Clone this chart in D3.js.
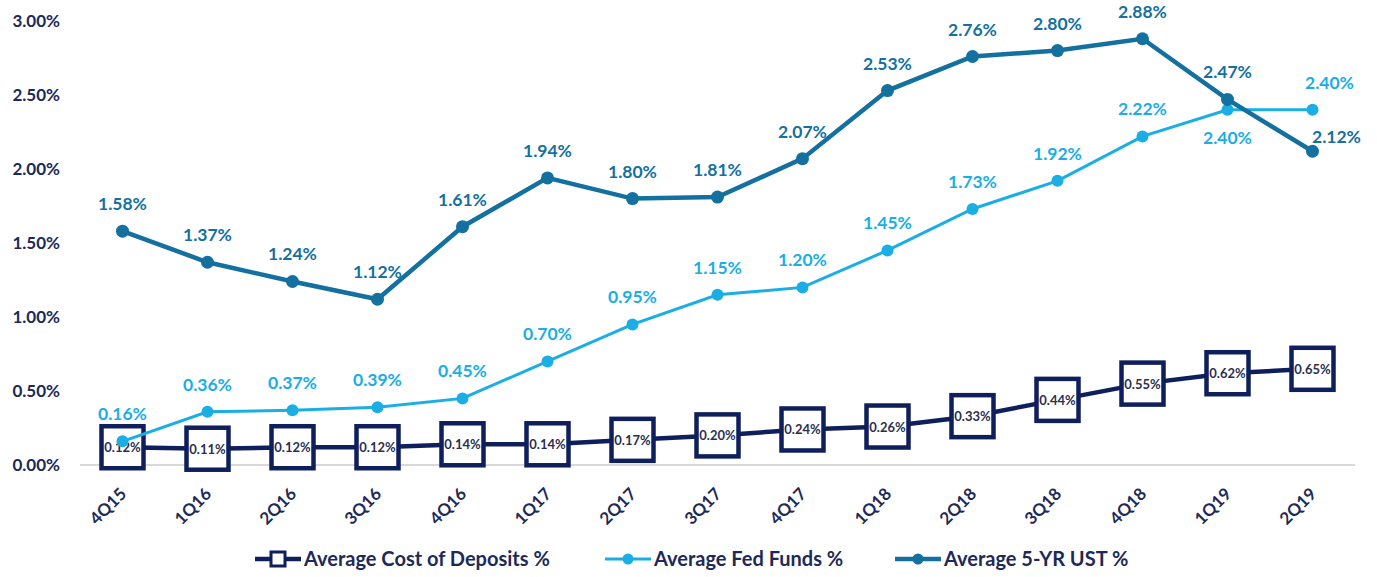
<!DOCTYPE html>
<html><head><meta charset="utf-8">
<script src="https://cdn.jsdelivr.net/npm/d3@7"></script>
<style>
body{margin:0;background:#fff;}
svg text{font-family:Lato, "Open Sans", sans-serif;font-weight:700;}
</style></head>
<body><svg id="c" width="1377" height="577"></svg>
<script>
const categories = ["4Q15","1Q16","2Q16","3Q16","4Q16","1Q17","2Q17","3Q17","4Q17","1Q18","2Q18","3Q18","4Q18","1Q19","2Q19"];
const deposits = [0.12,0.11,0.12,0.12,0.14,0.14,0.17,0.20,0.24,0.26,0.33,0.44,0.55,0.62,0.65];
const fedFunds = [0.16,0.36,0.37,0.39,0.45,0.70,0.95,1.15,1.20,1.45,1.73,1.92,2.22,2.40,2.40];
const ust5 = [1.58,1.37,1.24,1.12,1.61,1.94,1.80,1.81,2.07,2.53,2.76,2.80,2.88,2.47,2.12];
const yTicks = [0,0.5,1,1.5,2,2.5,3];
const seriesNames = ["Average Cost of Deposits %","Average Fed Funds %","Average 5-YR UST %"];

const C_DEP = "#0f1f5c", C_FED = "#1aaee5", C_UST = "#13709f", C_TXT = "#1d2a57";
const svg = d3.select("#c");
const x = d3.scaleBand().domain(categories).range([80,1355]);
const y = d3.scaleLinear().domain([0,3]).range([465,21]);
const cx = d => x(d) + x.bandwidth()/2;
const fmt = v => v.toFixed(2) + "%";

// y axis labels
const yAxis = d3.axisLeft(y).tickValues(yTicks).tickFormat(fmt).tickSize(0).tickPadding(0);
const ya = svg.append("g").attr("transform","translate(60,0)").call(yAxis);
ya.select(".domain").remove();
ya.selectAll("text").attr("font-size",17).attr("fill",C_TXT).attr("font-family","Lato").attr("font-weight",700);

// baseline
svg.append("line").attr("x1",80).attr("x2",1355).attr("y1",y(0)).attr("y2",y(0)).attr("stroke","#d9d9d9").attr("stroke-width",2);

// x axis labels
const xAxis = d3.axisBottom(x).tickSize(0).tickPadding(0);
const xa = svg.append("g").attr("transform",`translate(0,${y(0)})`).call(xAxis);
xa.select(".domain").remove();
xa.selectAll("text").attr("font-size",17).attr("fill",C_TXT).attr("font-family","Lato").attr("font-weight",700)
  .attr("text-anchor","end").attr("dy",0).attr("transform","translate(5,30) rotate(-45)");

const line = d3.line().x((d,i)=>cx(categories[i])).y(d=>y(d));

// Deposits (bottom layer)
svg.append("path").datum(deposits).attr("d",line).attr("fill","none").attr("stroke",C_DEP).attr("stroke-width",4.5);
const S = 42;
svg.append("g").selectAll("rect").data(deposits).join("rect")
  .attr("x",(d,i)=>cx(categories[i])-S/2).attr("y",d=>y(d)-S/2).attr("width",S).attr("height",S)
  .attr("fill","#fff").attr("stroke",C_DEP).attr("stroke-width",4.5);
svg.append("g").selectAll("text").data(deposits).join("text")
  .attr("x",(d,i)=>cx(categories[i])).attr("y",d=>y(d)+5).attr("text-anchor","middle")
  .attr("font-size",13).attr("fill","#2b2f4f").text(fmt);

// Fed funds
svg.append("path").datum(fedFunds).attr("d",line).attr("fill","none").attr("stroke",C_FED).attr("stroke-width",3);
svg.append("g").selectAll("circle").data(fedFunds).join("circle")
  .attr("cx",(d,i)=>cx(categories[i])).attr("cy",d=>y(d)).attr("r",6).attr("fill",C_FED);

// 5-YR UST (top layer)
svg.append("path").datum(ust5).attr("d",line).attr("fill","none").attr("stroke",C_UST).attr("stroke-width",4.5);
svg.append("g").selectAll("circle").data(ust5).join("circle")
  .attr("cx",(d,i)=>cx(categories[i])).attr("cy",d=>y(d)).attr("r",6.5).attr("fill",C_UST);

// UST labels
svg.append("g").selectAll("text").data(ust5).join("text")
  .attr("x",(d,i)=> i===14 ? cx(categories[i])+24 : cx(categories[i]))
  .attr("y",(d,i)=> i===14 ? y(d)-8 : y(d)-21).attr("text-anchor","middle")
  .attr("font-size",17.5).attr("fill",C_UST).text(fmt);

// Fed labels
svg.append("g").selectAll("text").data(fedFunds).join("text")
  .attr("x",(d,i)=> i===14 ? cx(categories[i])+17 : cx(categories[i]))
  .attr("y",(d,i)=> i===13 ? y(d)+34 : y(d)-21).attr("text-anchor","middle")
  .attr("font-size",17.5).attr("fill",C_FED).text(fmt);

// legend
const legX = [255,605,895];
const legColors = [C_DEP,C_FED,C_UST];
const lg = svg.append("g");
seriesNames.forEach((n,i)=>{
  const g = lg.append("g").attr("transform",`translate(${legX[i]},559)`);
  g.append("line").attr("x1",0).attr("x2",46).attr("y1",0).attr("y2",0).attr("stroke",legColors[i]).attr("stroke-width",i===1?3:4.5);
  if(i===0) g.append("rect").attr("x",16).attr("y",-7).attr("width",14).attr("height",14).attr("fill","#fff").attr("stroke",C_DEP).attr("stroke-width",3);
  else g.append("circle").attr("cx",23).attr("cy",0).attr("r",5.5).attr("fill",legColors[i]);
  g.append("text").attr("x",49).attr("y",7).attr("font-size",20).attr("fill",C_TXT).text(n);
});
</script></body></html>
